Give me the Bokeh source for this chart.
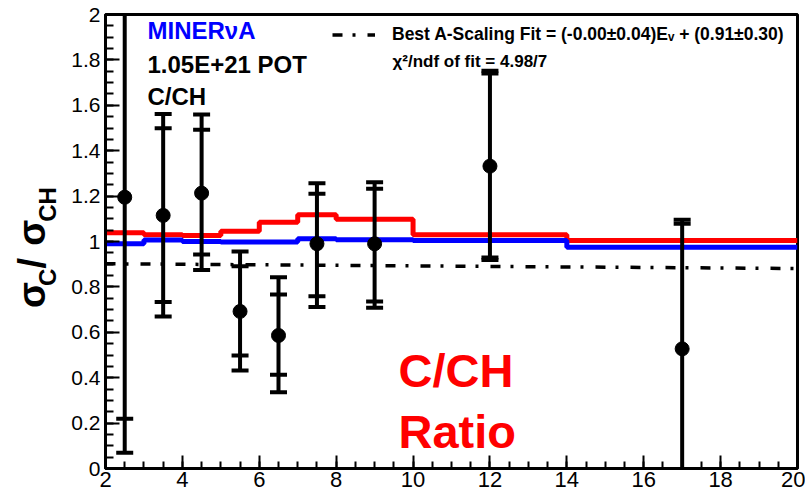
import math
from bokeh.plotting import figure
from bokeh.layouts import row
from bokeh.models import (Range1d, FixedTicker, CustomJSTickFormatter, Label,
                          Legend, LegendItem)
from bokeh.embed import file_html
from bokeh.resources import INLINE

# ---------------- data ----------------
bin_edges = [2, 3, 4, 5, 6, 7, 8, 10, 14, 20]
red_ratio = [1.038, 1.030, 1.026, 1.045, 1.085, 1.118, 1.098, 1.030, 1.004]
blue_ratio = [0.990, 1.007, 1.000, 0.998, 0.998, 1.012, 1.008, 1.004, 0.975]

pt_x = [2.5, 3.5, 4.5, 5.5, 6.5, 7.5, 9, 12, 17]
pt_y = [1.195, 1.115, 1.213, 0.692, 0.586, 0.990, 0.990, 1.332, 0.527]
stat_lo = [0.219, 0.733, 0.943, 0.498, 0.413, 0.759, 0.736, 0.930, -0.024]
stat_hi = [2.171, 1.499, 1.492, 0.891, 0.767, 1.210, 1.232, 1.740, 1.078]
tot_lo = [0.069, 0.670, 0.875, 0.432, 0.336, 0.711, 0.708, 0.918, -0.042]
tot_hi = [2.321, 1.562, 1.559, 0.956, 0.843, 1.257, 1.261, 1.752, 1.096]

fit_x = [2, 20]
fit_y = [0.902, 0.881]

x_major = [2, 4, 6, 8, 10, 12, 14, 16, 18, 20]
x_minor = [2 + 0.5 * i for i in range(37)]
y_major = [0, 0.2, 0.4, 0.6, 0.8, 1.0, 1.2, 1.4, 1.6, 1.8, 2.0]
y_minor = [0.05 * i for i in range(41)]

legend_text = "Best A-Scaling Fit = (-0.00\u00b10.04)E\u1d65 + (0.91\u00b10.30)"
chi2_text = "\u03c7\u00b2/ndf of fit = 4.98/7"

FONT = "Liberation Sans"
LEFT_W = 62

# ---------------- y-axis title panel ----------------
t = figure(width=LEFT_W, height=495, output_backend="svg",
           toolbar_location=None, x_range=Range1d(0, LEFT_W),
           y_range=Range1d(495, 0), x_axis_location=None,
           y_axis_location=None, min_border=0)
t.outline_line_color = None
t.xgrid.visible = False
t.ygrid.visible = False
t.background_fill_color = "white"
t.border_fill_color = "white"

r90 = math.pi / 2


def tlab(text, xb, ys, size):
    t.add_layout(Label(x=xb - 0.33 * size, y=ys, text=text, text_font=FONT,
                       text_font_style="bold", text_font_size=f"{size}px",
                       text_color="black", angle=r90, text_align="left",
                       text_baseline="alphabetic"))


tlab("\u03c3", 44, 320, 38)
tlab("C", 55, 296, 24)
tlab("/", 44, 277, 38)
tlab("\u03c3", 44, 252, 38)
tlab("CH", 55, 226, 24)

# ---------------- main figure ----------------
p = figure(width=805 - LEFT_W, height=495, output_backend="svg",
           toolbar_location=None, x_range=Range1d(2, 20),
           y_range=Range1d(0, 2), min_border_left=105 - LEFT_W,
           min_border_right=8, min_border_top=14, min_border_bottom=27)
p.background_fill_color = "white"
p.border_fill_color = "white"
p.outline_line_color = "black"
p.outline_line_width = 3
p.xgrid.visible = False
p.ygrid.visible = False

for ax in (p.xaxis[0], p.yaxis[0]):
    ax.axis_line_width = 3
    ax.axis_line_color = "black"
    ax.major_tick_line_width = 2
    ax.minor_tick_line_width = 2
    ax.major_tick_line_color = "black"
    ax.minor_tick_line_color = "black"
    ax.major_tick_out = 0
    ax.minor_tick_out = 0
    ax.major_label_text_font = FONT
    ax.major_label_text_color = "black"

p.xaxis.ticker = FixedTicker(ticks=x_major, minor_ticks=x_minor)
p.yaxis.ticker = FixedTicker(ticks=y_major, minor_ticks=y_minor)
p.xaxis.major_tick_in = 13
p.xaxis.minor_tick_in = 7
p.yaxis.major_tick_in = 14
p.yaxis.minor_tick_in = 8
p.xaxis.major_label_text_font_size = "22px"
p.yaxis.major_label_text_font_size = "21px"
p.xaxis.major_label_standoff = 3
p.yaxis.major_label_standoff = 5
fmt = CustomJSTickFormatter(code="return String(Math.round(tick*100)/100);")
p.xaxis.formatter = fmt
p.yaxis.formatter = fmt

# fit line
fit_r = p.line(fit_x, fit_y, line_color="black", line_width=3.5,
               line_dash="10 10 3 12")

# model histograms
p.step(bin_edges, red_ratio + red_ratio[-1:], mode="after",
       line_color="#ff0000", line_width=5)
p.step(bin_edges, blue_ratio + blue_ratio[-1:], mode="after",
       line_color="#0000ff", line_width=5)

# error bars
p.segment(x0=pt_x, y0=tot_lo, x1=pt_x, y1=tot_hi, line_color="black",
          line_width=4)
for arr in (stat_lo, stat_hi, tot_lo, tot_hi):
    p.scatter(pt_x, arr, marker="dash", size=17, line_width=4,
              line_color="black")
p.scatter(pt_x, pt_y, size=14, color="black")

# legend for fit
leg = Legend(items=[LegendItem(label=legend_text, renderers=[fit_r])],
             location=(227, 423), glyph_width=43, glyph_height=17,
             label_standoff=17, padding=0, margin=0, spacing=0,
             border_line_alpha=0, background_fill_alpha=0,
             label_text_font=FONT, label_text_font_style="bold",
             label_text_font_size="17.5px", label_text_color="black")
p.add_layout(leg)

FL, FB = 105, 468


def lab(text, xi, yi, size, color="black", shift=0):
    p.add_layout(Label(x=xi - FL, y=FB - (yi - shift), x_units="screen",
                       y_units="screen", text=text, text_font=FONT,
                       text_font_style="bold", text_font_size=size,
                       text_color=color, text_align="left",
                       text_baseline="alphabetic"))


lab(chi2_text, 392, 68, "17px", shift=7)
lab("MINER\u03bdA", 147, 40, "24px", color="#0000ff", shift=10)
lab("1.05E+21 POT", 147, 73, "24px", shift=9)
lab("C/CH", 147, 104, "24px", shift=8)
lab("C/CH", 398, 386, "47px", color="#ff0000", shift=16)
lab("Ratio", 398, 446, "47px", color="#ff0000", shift=15)

layout = row(t, p, spacing=0)
open("out.html", "w").write(file_html(layout, INLINE))
